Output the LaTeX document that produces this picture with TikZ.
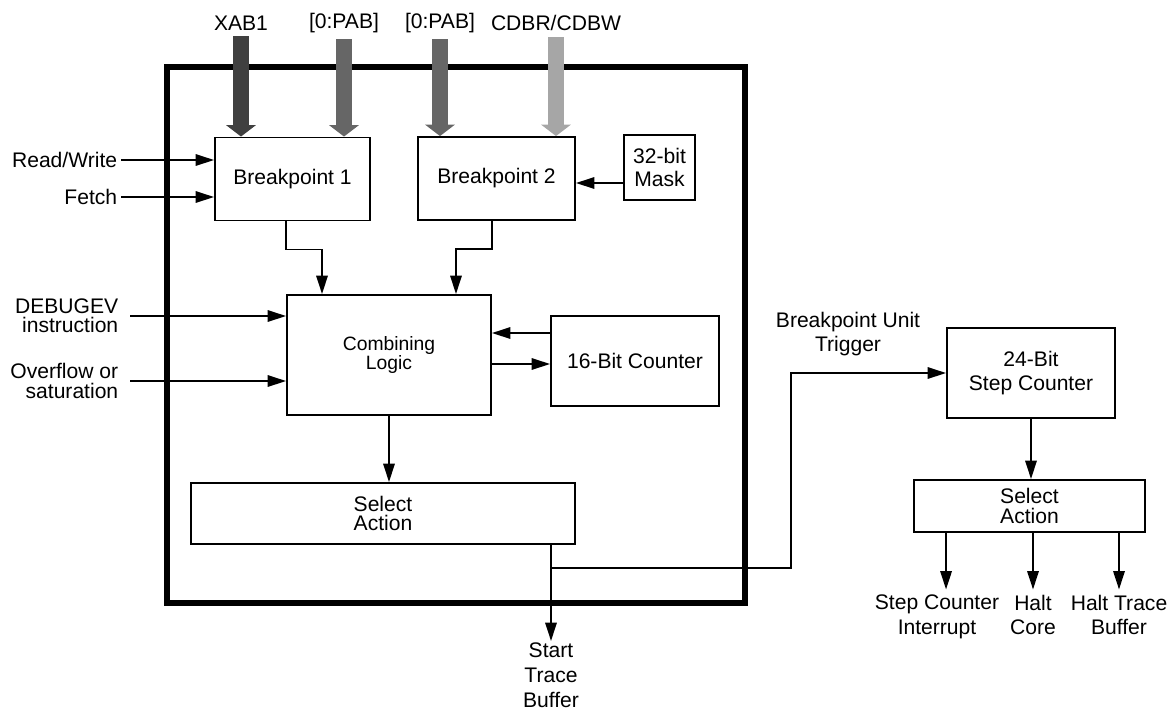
\documentclass[tikz,border=0pt]{standalone}
\usepackage{fontspec}
\setmainfont{Liberation Sans}
\usetikzlibrary{arrows.meta,positioning}

\definecolor{busdark}{gray}{0.25}
\definecolor{busmid}{gray}{0.40}
\definecolor{buslight}{gray}{0.65}

\begin{document}
\begin{tikzpicture}[
    x=0.02cm, y=-0.02cm,
    font=\fontsize{12}{14}\selectfont,
    block/.style={
        draw,
        align=center,
        inner sep=1pt,
        line width=1.1pt
    },
    snug/.style={font=\fontsize{12}{11}\selectfont},
    signal/.style={
        align=right,
        anchor=east,
        inner ysep=1pt,
        inner xsep=#1
    },
    signal/.default=2pt,
    outlabel/.style={align=center, anchor=north, inner sep=1pt},
    arrow/.style={-{Triangle[length=10.5pt,width=6.5pt]}, line width=1.1pt},
    bus/.style={-{Triangle[length=6.5pt,width=17pt,line width=0pt]}, line width=9pt, draw=#1}
]
\useasboundingbox (0,0) rectangle (1173,711);

% debug unit frame
\node[draw, line width=3.4pt, inner sep=0pt, minimum width=11.56cm, minimum height=10.72cm] (unit) at (456,335) {};

\node[block, minimum width=3.1cm, minimum height=1.66cm] (bpone) at (292.5,179) {Breakpoint 1};
\node[block, minimum width=3.14cm, minimum height=1.66cm] (bptwo) at (496.5,178.5) {Breakpoint 2};
\node[block, font=\fontsize{12}{13}\selectfont, minimum width=1.42cm, minimum height=1.3cm] (mask) at (659.5,167.5) {32-bit\\Mask};
\node[block, font=\fontsize{11}{10}\selectfont, minimum width=4.08cm, minimum height=2.4cm] (comb) at (389,355) {Combining\\Logic};
\node[block, minimum width=3.36cm, minimum height=1.8cm] (cntsixteen) at (635,361) {16-Bit Counter};
\node[block, snug, minimum width=7.68cm, minimum height=1.22cm] (selone) at (383,513.5) {Select\\Action};
\node[block, minimum width=3.36cm, minimum height=1.8cm] (stepcnt) at (1031,373) {24-Bit\\Step Counter};
\node[block, snug, minimum width=4.62cm, minimum height=1.04cm] (seltwo) at (1029.5,506) {Select\\Action};

% bus inputs
\node (lxab) at (241,23) {XAB1};
\node (lpabone) at (344,23) {[0:PAB]};
\node (lpabtwo) at (440,23) {[0:PAB]};
\node (lcdb) at (556,23) {CDBR/CDBW};
\draw[bus=busdark] (lxab.south) -- (lxab.south |- bpone.north);
\draw[bus=busmid] (lpabone.south) -- (lpabone.south |- bpone.north);
\draw[bus=busmid] (lpabtwo.south) -- (lpabtwo.south |- bptwo.north);
\draw[bus=buslight] (lcdb.south) -- (lcdb.south |- bptwo.north);

% side inputs
\node[signal] (rw) at (121,160) {Read/Write};
\node[signal] (fetch) at (121,197) {Fetch};
\node[signal=6.5pt, snug] (debugev) at (130,316) {DEBUGEV\\instruction};
\node[signal=6.5pt, snug] (ovf) at (130,381) {Overflow or\\saturation};
\draw[arrow] (rw.east) -- (rw.east -| bpone.west);
\draw[arrow] (fetch.east) -- (fetch.east -| bpone.west);
\draw[arrow] (debugev.east) -- (debugev.east -| comb.west);
\draw[arrow] (ovf.east) -- (ovf.east -| comb.west);

\draw[arrow] ([yshift=-0.09cm]bptwo.east -| mask.west) -- ([yshift=-0.09cm]bptwo.east);
\draw[arrow] (bpone.south -| comb.west) -- ++(0,28) -| ([xshift=-1.34cm]comb.north);
\draw[arrow] (bptwo.south -| comb.east) -- ++(0,28) -| ([xshift=1.34cm]comb.north);
\draw[arrow] ([yshift=0.56cm]cntsixteen.west) -- ([yshift=0.56cm]cntsixteen.west -| comb.east);
\draw[arrow] ([yshift=-0.18cm]comb.east) -- ([yshift=-0.18cm]comb.east -| cntsixteen.west);
\draw[arrow] (comb.south) -- (comb.south |- selone.north);

% outputs
\node[outlabel] (starttb) at (551,641) {Start\\Trace\\Buffer};
\draw[arrow] (selone.south -| starttb.north) -- (starttb.north);
\node[align=center] (trig) at (848,334) {Breakpoint Unit\\Trigger};
\draw[arrow] ([yshift=-0.46cm]selone.south -| starttb.north) -- ++(240,0) |- (stepcnt.west);
\draw[arrow] (stepcnt.south) -- (stepcnt.south |- seltwo.north);

\node[outlabel] (scint) at (937,593) {Step Counter\\Interrupt};
\node[outlabel] (haltcore) at (1033,593) {Halt\\Core};
\node[outlabel] (halttb) at (1119,593) {Halt Trace\\Buffer};
\draw[arrow] (seltwo.south -| stepcnt.west) -- ([yshift=2pt]scint.north -| stepcnt.west);
\draw[arrow] (seltwo.south -| haltcore.north) -- ([yshift=2pt]haltcore.north);
\draw[arrow] (seltwo.south -| halttb.north) -- ([yshift=2pt]halttb.north);
\end{tikzpicture}
\end{document}
